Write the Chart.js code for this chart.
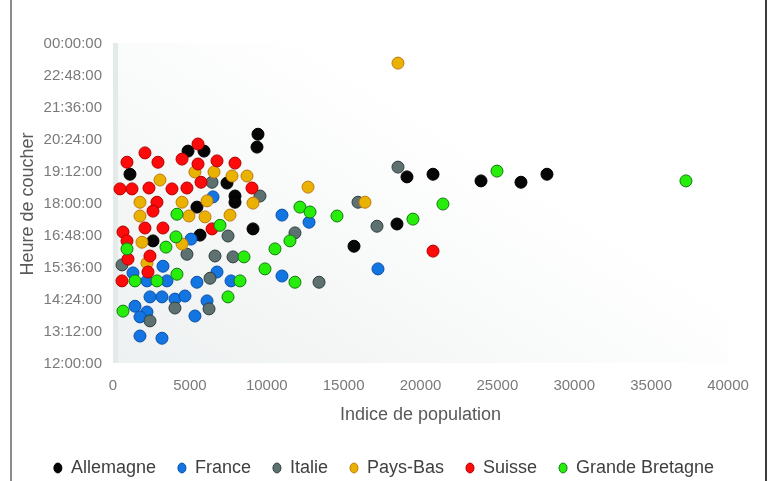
<!DOCTYPE html>
<html>
<head>
<meta charset="utf-8">
<script src="https://cdn.jsdelivr.net/npm/chart.js@4.4.1/dist/chart.umd.min.js"></script>
<style>
  html, body { margin: 0; padding: 0; background: #fff; }
  #wrap { width: 771px; height: 481px; }
</style>
</head>
<body>
<div id="wrap"><canvas id="chart" width="771" height="481"></canvas></div>
<script>
// Population index vs time of day, one list of [index, "HH:MM"] per country
const countries = ["Allemagne", "France", "Italie", "Pays-Bas", "Suisse", "Grande Bretagne"];

const allemagne = [
  [9430, "20:37"], [9365, "20:08"], [4880, "19:59"], [5920, "19:59"], [1105, "19:07"],
  [7415, "18:47"], [7935, "18:18"], [7935, "18:04"], [5460, "17:53"], [9105, "17:04"],
  [5660, "16:50"], [2600, "16:37"], [15675, "16:25"], [18470, "17:15"], [19120, "19:01"],
  [20815, "19:07"], [23935, "18:52"], [26535, "18:49"], [28225, "19:07"]
];
const france = [
  [6505, "18:16"], [10990, "17:35"], [12750, "17:19"], [5075, "16:41"], [17235, "15:34"],
  [3250, "15:40"], [1300, "15:25"], [6765, "15:27"], [2210, "15:07"], [3510, "15:07"],
  [5460, "15:04"], [7675, "15:07"], [10990, "15:18"], [2405, "14:31"], [3185, "14:31"],
  [4030, "14:26"], [4680, "14:33"], [6115, "14:22"], [1430, "14:10"], [2210, "13:57"],
  [1755, "13:46"], [5330, "13:48"], [1755, "13:03"], [3185, "12:58"]
];
const italie = [
  [6440, "18:49"], [9560, "18:18"], [7480, "16:48"], [4810, "16:07"], [6635, "16:03"],
  [7805, "16:01"], [585, "15:43"], [6310, "15:13"], [4030, "14:06"], [6245, "14:04"],
  [2405, "13:37"], [18535, "19:23"], [15935, "18:04"], [17170, "17:10"], [11835, "16:55"],
  [13400, "15:04"]
];
const paysBas = [
  [18535, "23:17"], [3055, "18:54"], [5330, "19:12"], [6570, "19:12"], [7740, "19:03"],
  [8715, "19:03"], [1755, "18:04"], [4490, "18:04"], [6115, "18:07"], [9105, "18:02"],
  [1755, "17:33"], [4940, "17:33"], [5985, "17:31"], [7610, "17:35"], [1885, "16:34"],
  [4490, "16:30"], [2210, "15:47"], [12685, "18:38"], [16390, "18:04"]
];
const suisse = [
  [5530, "20:15"], [2080, "19:55"], [910, "19:34"], [2925, "19:34"], [4490, "19:41"],
  [5530, "19:30"], [6765, "19:37"], [7935, "19:32"], [5725, "18:49"], [455, "18:34"],
  [1235, "18:34"], [2340, "18:36"], [3835, "18:34"], [4810, "18:36"], [9040, "18:36"],
  [2860, "18:04"], [2600, "17:44"], [650, "16:57"], [2080, "17:06"], [3250, "17:06"],
  [6440, "17:04"], [910, "16:37"], [2405, "16:03"], [975, "15:56"], [2275, "15:27"],
  [585, "15:07"], [20815, "16:14"]
];
const grandeBretagne = [
  [4160, "17:37"], [6960, "17:12"], [4095, "16:46"], [3445, "16:23"], [910, "16:19"],
  [8520, "16:01"], [10535, "16:19"], [9885, "15:34"], [4160, "15:22"], [1430, "15:07"],
  [2860, "15:07"], [8260, "15:07"], [7480, "14:31"], [650, "13:59"], [11510, "16:37"],
  [12160, "17:53"], [12815, "17:42"], [14570, "17:33"], [11835, "15:04"], [19510, "17:26"],
  [21460, "18:00"], [24975, "19:14"], [37265, "18:52"]
];

const xTickLabels = ["0", "5000", "10000", "15000", "20000", "25000", "30000", "35000", "40000"];
const yTickLabels = ["12:00:00", "13:12:00", "14:24:00", "15:36:00", "16:48:00", "18:00:00",
  "19:12:00", "20:24:00", "21:36:00", "22:48:00", "00:00:00"];

const fills = ["#060606", "#1275e2", "#5e7171", "#e9b100", "#ff0a0a", "#26ee0a"];
const edges = ["#000000", "#0b4fa8", "#2f3d3d", "#c07a10", "#b00000", "#127a10"];

function toHours(t) {
  const parts = t.split(":").map(Number);
  return parts[0] + parts[1] / 60;
}

const series = [allemagne, france, italie, paysBas, suisse, grandeBretagne];

const datasets = series.map((points, i) => ({
  label: countries[i],
  data: points.map((p) => ({ x: p[0], y: toHours(p[1]) })),
  backgroundColor: fills[i],
  borderColor: edges[i],
  pointRadius: 6,
  pointHoverRadius: 6,
  pointBorderWidth: 1,
  order: series.length - i, // later countries drawn on top, like the original
}));

// light plot wall + outer frame lines
const chartBackdrop = {
  id: "chartBackdrop",
  beforeDraw(chart) {
    const { ctx, chartArea: a } = chart;
    ctx.save();
    const g = ctx.createLinearGradient(a.left + 200, a.top, a.left, a.bottom);
    g.addColorStop(0, "#ffffff");
    g.addColorStop(1, "#eef1f1");
    ctx.fillStyle = g;
    ctx.fillRect(a.left, a.top - 1, a.right - a.left, a.bottom - a.top);
    ctx.fillStyle = "#e4e9e9";
    ctx.fillRect(a.left, a.top - 1, 5, a.bottom - a.top);
    ctx.restore();
  },
  afterDraw(chart) {
    const ctx = chart.ctx;
    ctx.save();
    ctx.fillStyle = "#8c8c8c";
    ctx.fillRect(10, 0, 2, chart.height);
    ctx.fillStyle = "#3c3c3c";
    ctx.fillRect(765, 0, 2, chart.height);
    ctx.restore();
  },
};

const font = "'Liberation Sans', Arial, sans-serif";

new Chart(document.getElementById("chart"), {
  type: "scatter",
  data: { datasets: datasets },
  plugins: [chartBackdrop],
  options: {
    responsive: false,
    devicePixelRatio: 1,
    animation: false,
    events: [],
    layout: { padding: { left: 12, right: 15, top: 44, bottom: 0 } },
    plugins: {
      tooltip: { enabled: false },
      legend: {
        position: "bottom",
        maxHeight: 44,
        labels: {
          usePointStyle: true,
          pointStyle: "circle",
          pointStyleWidth: 8,
          boxHeight: 7,
          padding: 22,
          color: "#404040",
          font: { family: font, size: 18 },
          sort: (a, b) => a.datasetIndex - b.datasetIndex,
        },
      },
    },
    scales: {
      x: {
        type: "linear",
        min: 0,
        max: 40000,
        grid: { display: false, drawTicks: false },
        border: { display: false },
        ticks: {
          stepSize: 5000,
          padding: 13,
          maxRotation: 0,
          color: "#7a7a7a",
          font: { family: font, size: 15 },
          callback: (value, index) => xTickLabels[index],
        },
        title: {
          display: true,
          text: "Indice de population",
          color: "#595959",
          font: { family: font, size: 18 },
          padding: { top: 0, bottom: 11 },
        },
        afterFit(scale) {
          scale.height = 73;
        },
      },
      y: {
        type: "linear",
        min: 12,
        max: 24,
        grid: { display: false, drawTicks: false },
        border: { display: false },
        ticks: {
          stepSize: 1.2,
          padding: 11,
          color: "#7a7a7a",
          font: { family: font, size: 15 },
          callback: (value, index) => yTickLabels[index],
        },
        title: {
          display: true,
          text: "Heure de coucher",
          color: "#595959",
          font: { family: font, size: 18 },
          padding: { top: 5, bottom: 0 },
        },
        afterFit(scale) {
          scale.width = 101;
        },
      },
      y2: {
        type: "linear",
        position: "right",
        display: true,
        grid: { display: false, drawTicks: false },
        border: { display: false },
        ticks: { display: false },
        afterFit(scale) {
          scale.width = 28;
        },
      },
    },
  },
});
</script>
</body>
</html>
